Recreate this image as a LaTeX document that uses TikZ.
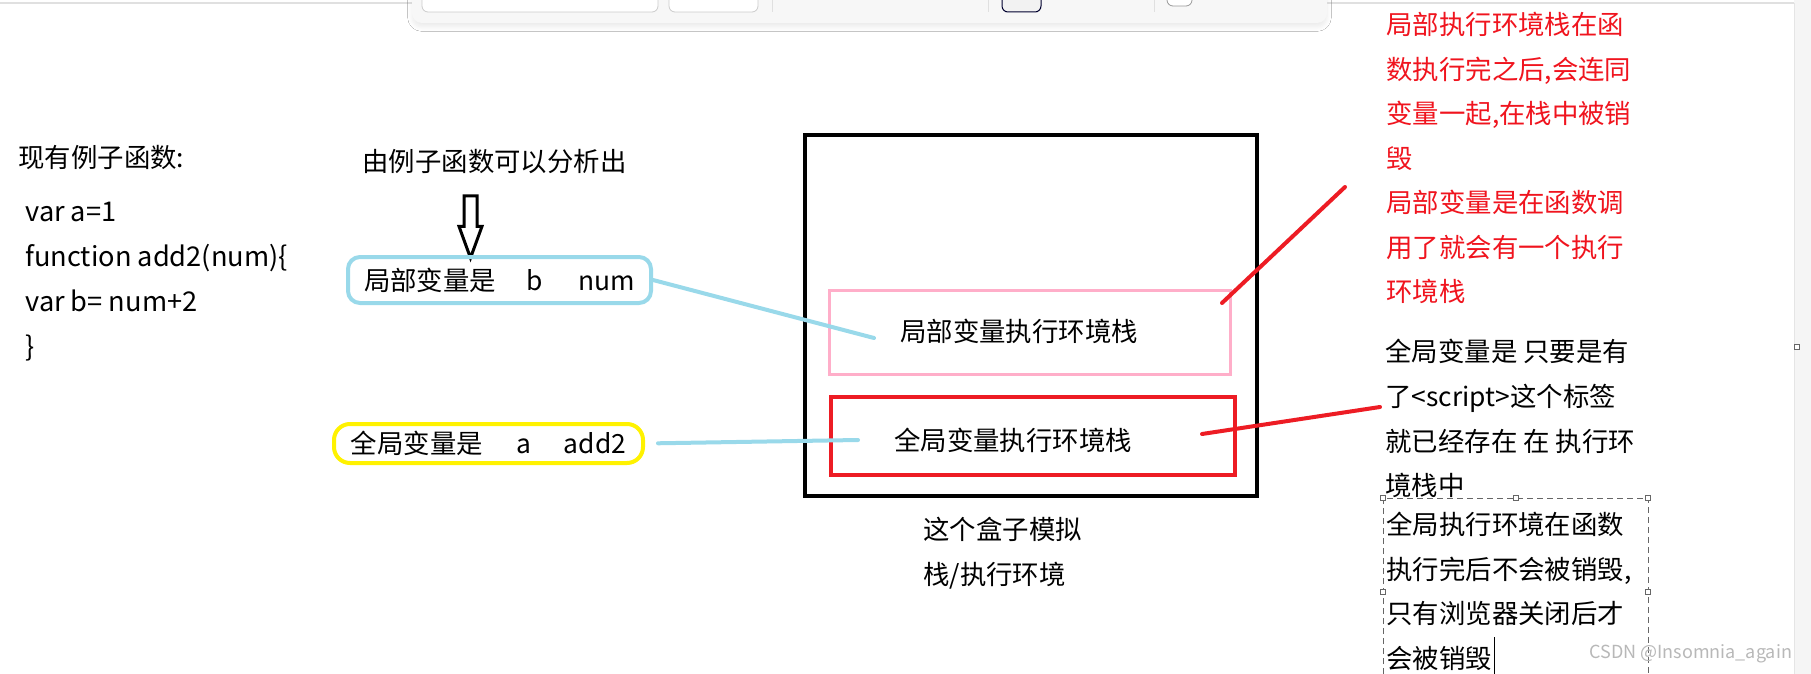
\documentclass[tikz,border=0pt]{standalone}
\usepackage{fontspec}
\setmainfont{Noto Sans CJK SC}
\usetikzlibrary{positioning,shapes.arrows,shadows.blur,calc}

\definecolor{paintblue}{RGB}{153,217,234}
\definecolor{paintpink}{RGB}{255,174,201}
\definecolor{paintred}{RGB}{237,28,36}
\definecolor{paintyellow}{RGB}{255,242,0}
\definecolor{notered}{RGB}{240,20,30}

\begin{document}
\begin{tikzpicture}[
    x=0.5pt, y=-0.5pt,
    txt/.style={inner sep=0pt, font=\fontsize{13.2}{22.3}\selectfont, anchor=west},
    note/.style={inner sep=0pt, font=\fontsize{13.2}{22.3}\selectfont, align=left, anchor=north west},
    varbox/.style={draw, line width=2pt, inner sep=0pt, font=\fontsize{13.2}{22.3}\selectfont},
    stackbox/.style={draw, rectangle, inner sep=0pt},
    kongxin/.style={single arrow, draw, line width=1.5pt, fill=white, shape border rotate=270, minimum height=31pt, inner sep=2.5pt, single arrow head extend=2.5pt, single arrow tip angle=40},
    lianxian/.style={paintblue, line width=2pt, line cap=round},
    hongxian/.style={paintred, line width=2pt, line cap=round},
    handle/.style={black!60, fill=white, line width=0.4pt}
]
\useasboundingbox (0,0) rectangle (1811,674);
\fill[white] (0,0) rectangle (1811,674);

% page edges and toolbar of the editor
\draw[black!12, line width=0.6pt] (0,3) -- (1794,3);
\fill[black!4] (1794,0) rectangle (1811,674);
\draw[black!10, line width=0.4pt] (1794,3) -- (1794,674);
\fill[black!3, rounded corners=5pt, blur shadow={shadow xshift=0pt, shadow yshift=-2pt, shadow opacity=8, shadow blur steps=6}] (412,-20) rectangle (1327,23);
\draw[black!20, fill=white, rounded corners=3pt, line width=0.4pt] (422,-10) rectangle (658,12);
\draw[black!20, fill=white, rounded corners=3pt, line width=0.4pt] (669,-10) rectangle (758,12);
\draw[black!55!blue!40!black, fill=black!5, rounded corners=3pt, line width=0.5pt] (1002,-10) rectangle (1041,12);
\draw[black!40, fill=white, rounded corners=3pt, line width=0.4pt] (1167,-10) rectangle (1192,6);
\foreach \sx in {772,988,1154}
    \draw[black!12, line width=0.4pt] (\sx,0) -- (\sx,12);

% example function on the left
\node[txt] (liti) at (18,157) {现有例子函数:};
\node[note, font=\fontsize{13.6}{22.5}\selectfont] (daima) at (25,202) {var a=1\\function add2(num)\{\\var b= num+2\\\}};

% what the function gives
\node[txt] (fenxi) at (362,162) {由例子函数可以分析出};
\node[kongxin] (jiantou) at (470.5,218) {};
\node[varbox, draw=paintblue, rounded corners=6pt, minimum width=151.5pt, minimum height=23pt] (jubian) at (499.5,280) {局部变量是\hspace{15pt}b\hspace{18pt}num};
\node[varbox, draw=paintyellow, rounded corners=8pt, minimum width=154.5pt, minimum height=19.5pt] (quanbian) at (488.5,443.5) {全局变量是\hspace{17pt}a\hspace{16pt}add2};

% the box as stack
\node[stackbox, line width=2pt, minimum width=226pt, minimum height=180.5pt] (zhan) at (1031,315.5) {};
\node[stackbox, draw=paintpink, line width=1.5pt, minimum width=200.5pt, minimum height=42pt] (jubu) at (1030,332.5) {};
\node[stackbox, draw=paintred, line width=2pt, minimum width=202pt, minimum height=39pt] (quan) at (1033,436) {};
\node[txt, anchor=center] (jubutxt) at (1019,331) {局部变量执行环境栈};
\node[txt, anchor=center] (quantxt) at (1013,440) {全局变量执行环境栈};
\node[note] (hezi) at (923,517) {这个盒子模拟\\栈/执行环境};

% notes on the right
\node[note, text=notered, font=\fontsize{13.2}{22.25}\selectfont] (xiaohui) at (1386,12) {局部执行环境栈在函\\数执行完之后,会连同\\变量一起,在栈中被销\\毁\\局部变量是在函数调\\用了就会有一个执行\\环境栈};
\node[note, font=\fontsize{13.2}{22.35}\selectfont] (quanju) at (1385,339) {全局变量是 只要是有\\了<script>这个标签\\就已经存在 在 执行环\\境栈中};
\node[note, font=\fontsize{13.2}{22.2}\selectfont] (zhixing) at (1386,512) {全局执行环境在函数\\执行完后不会被销毁,\\只有浏览器关闭后才\\会被销毁};

% text frame being edited
\draw[black!60, line width=0.4pt, dash pattern=on 3pt off 2pt] (1383,674) -- (1383,498) -- (1648,498) -- (1648,674);
\foreach \hx/\hy in {1383/498,1516/498,1648/498,1383/592,1648/592,1797/347}
    \draw[handle] (\hx-2.5,\hy-2.5) rectangle (\hx+2.5,\hy+2.5);
\draw[line width=0.5pt] (1494,637) -- (1494,674);

% connectors
\coordinate (jubu-in) at (874,338);
\coordinate (quan-in) at (858,440);
\draw[lianxian] (jubian.east) -- (jubu-in);
\draw[lianxian, shorten <=6.5pt] (quanbian.east) -- (quan-in);
\coordinate (hong-a) at (1222,303);
\coordinate (hong-b) at (1345,187);
\coordinate (hong-c) at (1202,434);
\coordinate (hong-d) at (1380,407);
\draw[hongxian] (hong-a) -- (hong-b);
\draw[hongxian] (hong-c) -- (hong-d);

\node[txt, text=black!28, font=\fontsize{9}{11}\selectfont] (shuiyin) at (1589,654) {CSDN @Insomnia\_again};

\end{tikzpicture}
\end{document}
